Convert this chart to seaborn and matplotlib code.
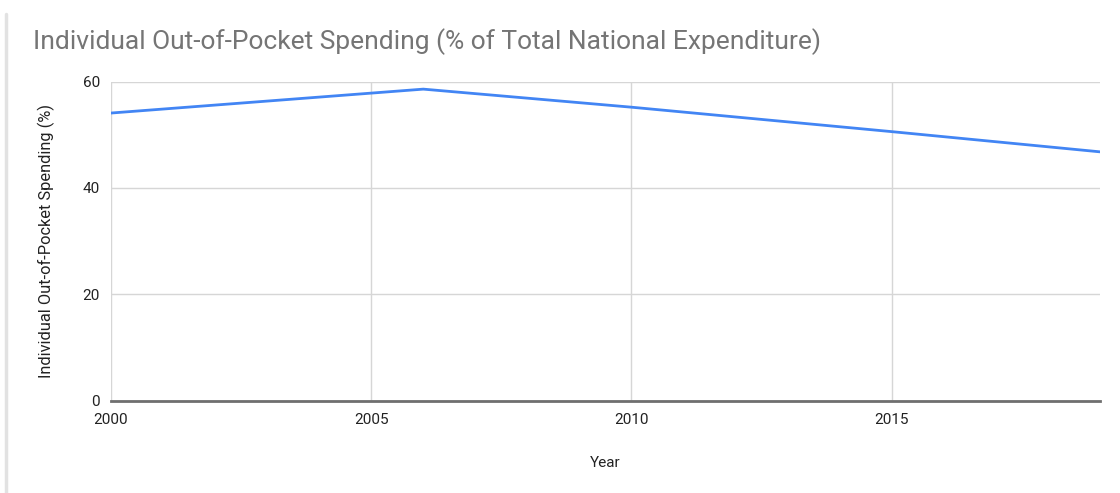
import matplotlib
matplotlib.use("Agg")
import matplotlib.pyplot as plt
from matplotlib.lines import Line2D
import seaborn as sns
import pandas as pd

# Out-of-pocket share of total national health expenditure
years = [2000, 2006, 2010, 2015, 2019]
spending_pct = [54.1, 58.6, 55.2, 50.6, 46.8]

x_ticks = [2000, 2005, 2010, 2015]
y_ticks = [0, 20, 40, 60]

title = "Individual Out-of-Pocket Spending (% of Total National Expenditure)"
x_label = "Year"
y_label = "Individual Out-of-Pocket Spending (%)"

df = pd.DataFrame({"Year": years, "Spending": spending_pct})

sns.set_theme(style="white")
plt.rcParams["font.family"] = ["Roboto", "DejaVu Sans"]

fig = plt.figure(figsize=(11.2, 4.93), dpi=100)
ax = fig.add_axes([0.0991, 0.1876, 0.8830, 0.6467])

sns.lineplot(data=df, x="Year", y="Spending", ax=ax, color="#4285F4",
             linewidth=2.0, zorder=3)

ax.set_xlim(2000, 2019)
ax.set_ylim(0, 60)
ax.set_xticks(x_ticks)
ax.set_yticks(y_ticks)
ax.set_xticklabels([str(t) for t in x_ticks])
ax.set_yticklabels([str(t) for t in y_ticks])

ax.grid(True, color="#d6d6d6", linewidth=1.0)
ax.set_axisbelow(True)
for side in ("top", "right", "left"):
    ax.spines[side].set_visible(False)
ax.spines["bottom"].set_color("#6f6f6f")
ax.spines["bottom"].set_linewidth(2.0)
ax.spines["bottom"].set_zorder(4)

ax.tick_params(axis="both", length=0, labelsize=11, colors="#222222")
ax.tick_params(axis="x", pad=9)
ax.tick_params(axis="y", pad=8)

ax.set_xlabel(x_label, fontsize=11, color="#222222", labelpad=21)
ax.set_ylabel(y_label, fontsize=11.8, color="#222222", labelpad=20)

fig.text(33 / 1120, 1 - 42 / 493, title, fontsize=19, color="#757575",
         ha="left", va="center")

# card edge on the left
fig.add_artist(Line2D([6 / 1120, 6 / 1120], [0, 1 - 14 / 493],
                      transform=fig.transFigure, color="#e2e2e2",
                      linewidth=2.5))

fig.savefig("out.png", dpi=100, facecolor="white")
